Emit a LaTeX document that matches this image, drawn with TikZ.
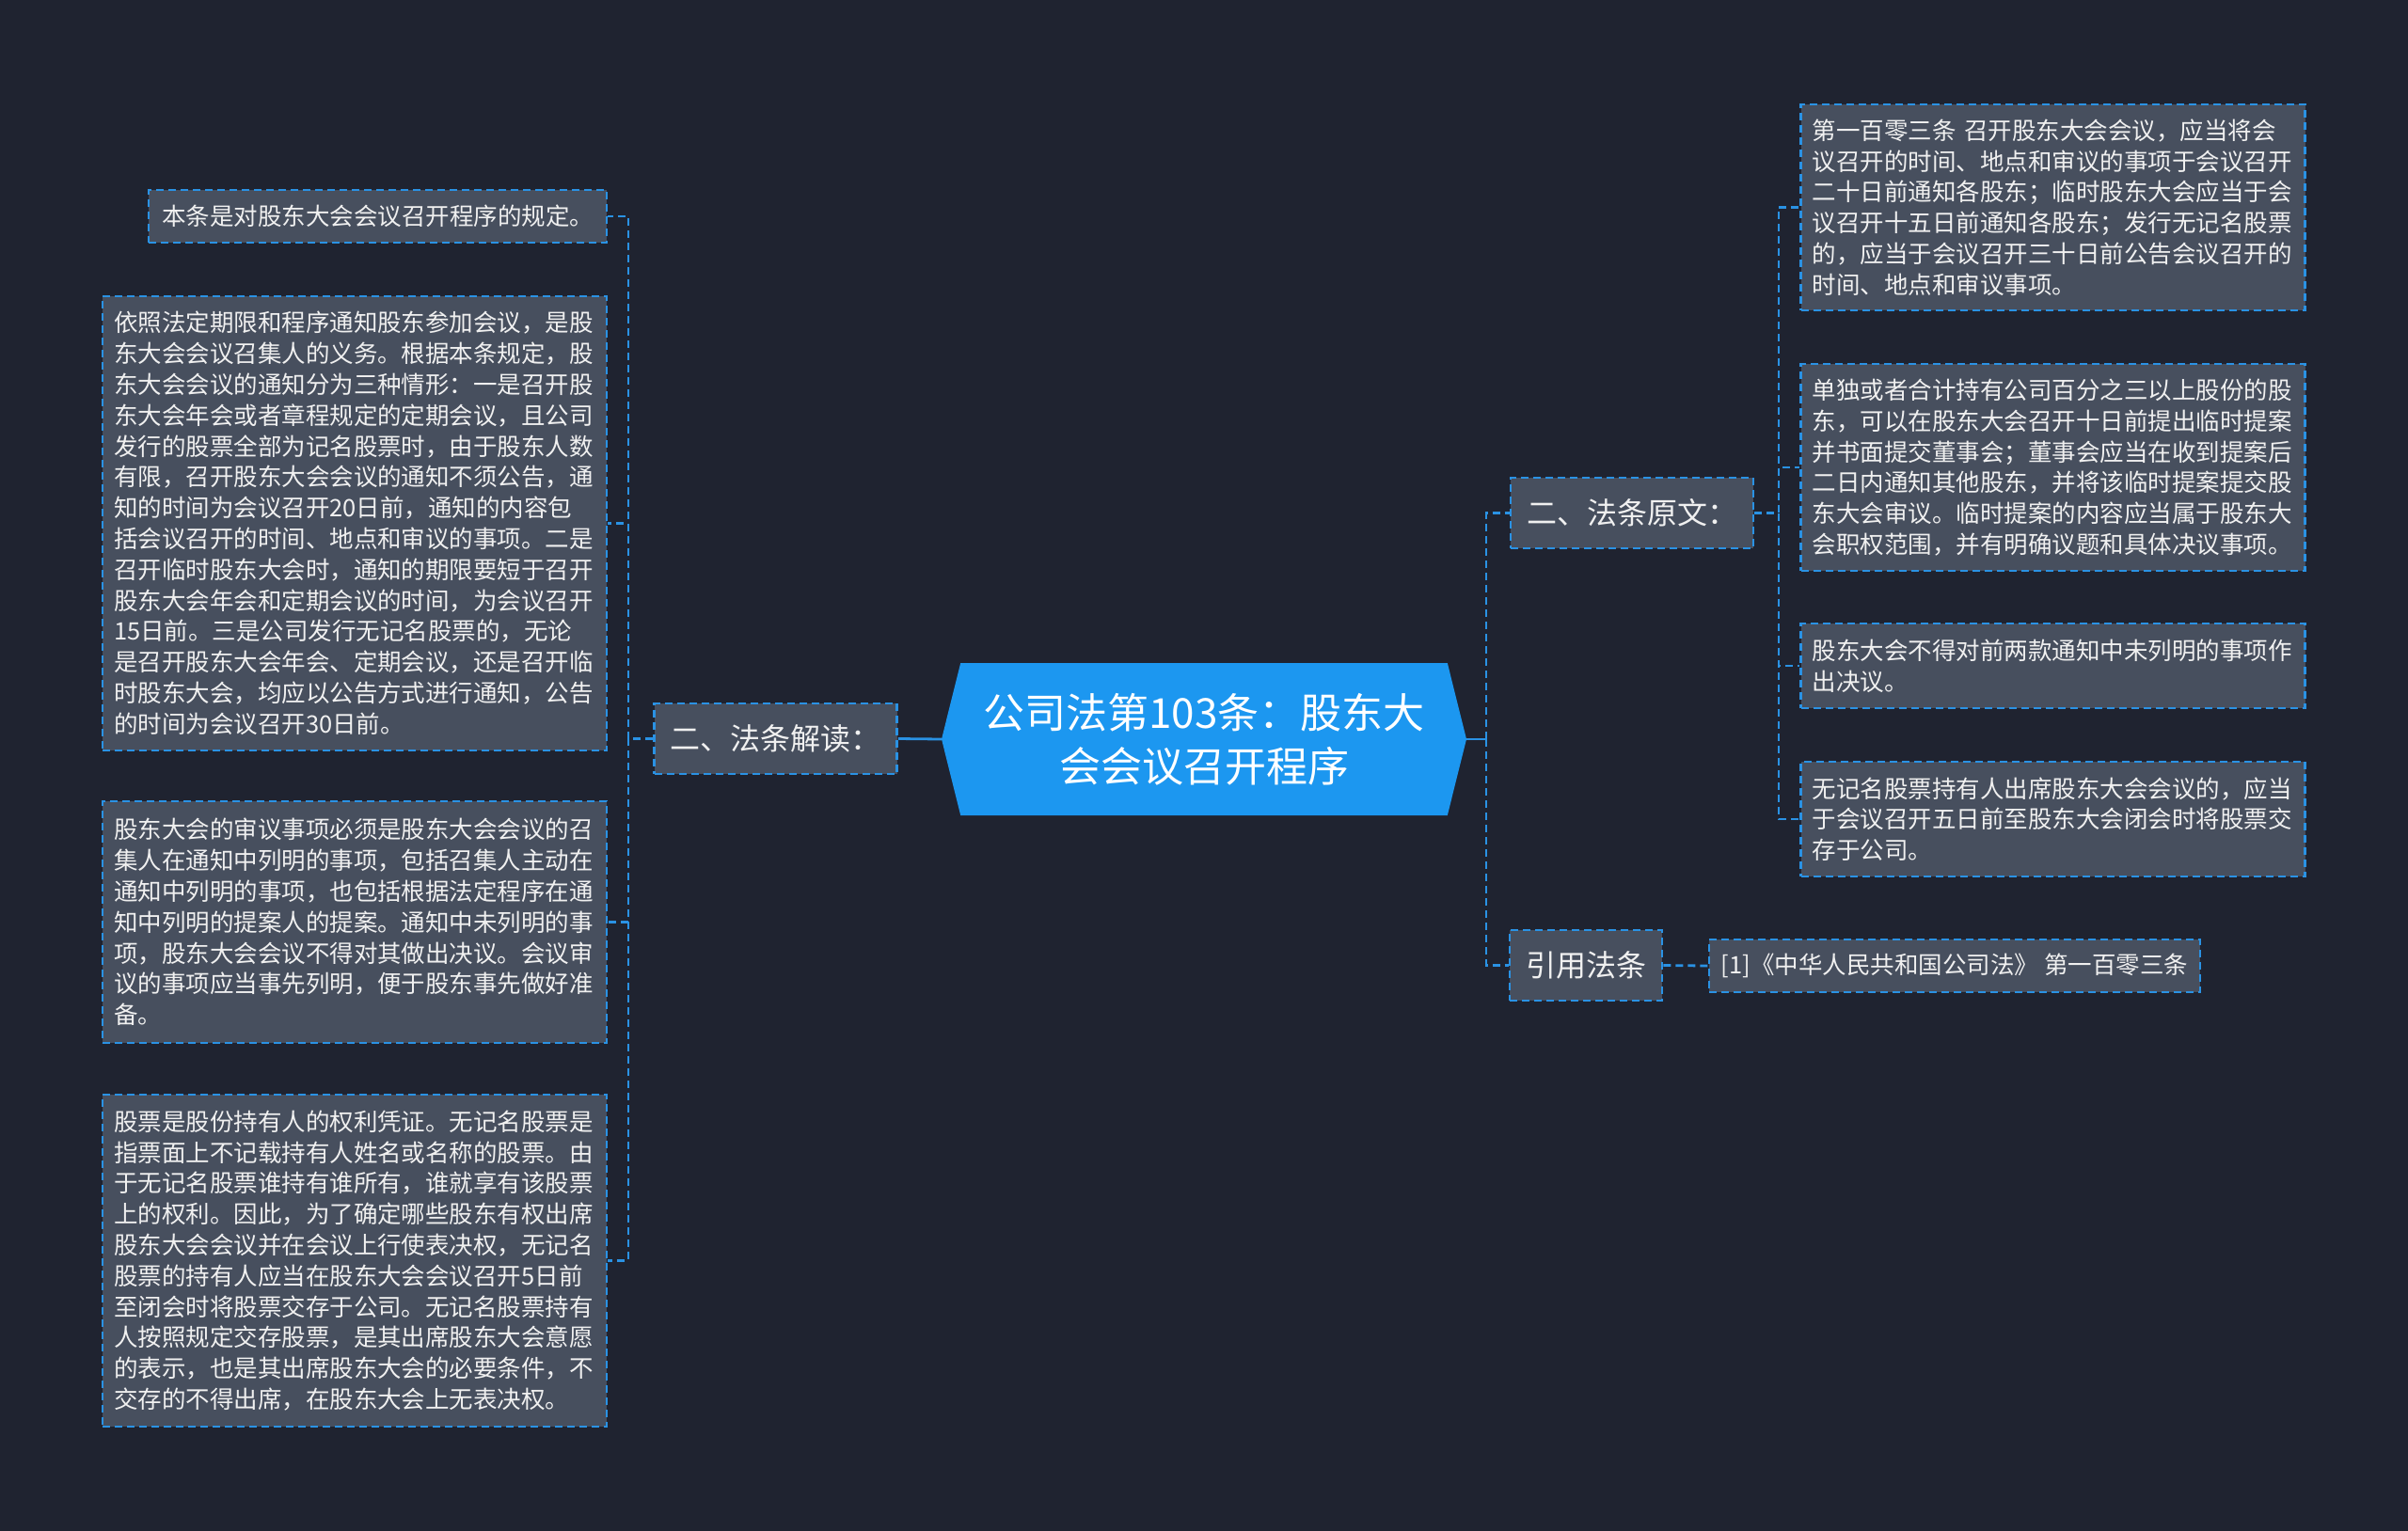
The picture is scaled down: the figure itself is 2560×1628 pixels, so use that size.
\documentclass[tikz,border=0pt]{standalone}
\usepackage{fontspec}
\setmainfont{Noto Sans CJK SC}
\usepackage{tikz}
\usetikzlibrary{shapes.symbols,positioning}
\definecolor{bgdark}{HTML}{1F2330}
\definecolor{boxgray}{HTML}{474F5E}
\definecolor{lineblue}{HTML}{2A92E4}
\definecolor{rootblue}{HTML}{1C97F0}
\definecolor{txtlight}{HTML}{F0F0F0}

\begin{document}
\begin{tikzpicture}[x=1pt,y=-1pt,
  box/.style={draw=lineblue,fill=boxgray,line width=2.8pt,dash pattern=on 8pt off 5pt,
    text=txtlight,font=\fontsize{25.5}{32.8}\selectfont,inner ysep=4pt},
  leaf/.style={box,text width=512pt,inner xsep=12pt,align=left},
  branch/.style={box,font=\fontsize{32}{40}\selectfont,inner xsep=17pt,minimum height=75pt},
  link/.style={draw=lineblue,line width=2.8pt,dash pattern=on 8pt off 5pt},
  solidlink/.style={draw=lineblue,line width=2.8pt}]
\fill[bgdark] (0,0) rectangle (2560,1628);

% centre
\node[signal,signal to=west and east,signal pointer angle=152,fill=rootblue,text=white,
  minimum width=558pt,minimum height=162pt,align=center,
  font=\fontsize{44}{57}\selectfont] (root) at (1280,786)
  {公司法第103条：股东大\\会会议召开程序};

% left side
\node[branch] (jiedu) at (824.5,785.5) {二、法条解读：};
\node[box,inner xsep=14pt,minimum height=56pt] (L1) at (401.5,230) {本条是对股东大会会议召开程序的规定。};
\node[leaf,minimum height=483pt] (L2) at (377,556.5) {依照法定期限和程序通知股东参加会议，是股\\
东大会会议召集人的义务。根据本条规定，股\\
东大会会议的通知分为三种情形：一是召开股\\
东大会年会或者章程规定的定期会议，且公司\\
发行的股票全部为记名股票时，由于股东人数\\
有限，召开股东大会会议的通知不须公告，通\\
知的时间为会议召开20日前，通知的内容包\\
括会议召开的时间、地点和审议的事项。二是\\
召开临时股东大会时，通知的期限要短于召开\\
股东大会年会和定期会议的时间，为会议召开\\
15日前。三是公司发行无记名股票的，无论\\
是召开股东大会年会、定期会议，还是召开临\\
时股东大会，均应以公告方式进行通知，公告\\
的时间为会议召开30日前。};
\node[leaf,minimum height=257pt] (L3) at (377,980.5) {股东大会的审议事项必须是股东大会会议的召\\
集人在通知中列明的事项，包括召集人主动在\\
通知中列明的事项，也包括根据法定程序在通\\
知中列明的提案人的提案。通知中未列明的事\\
项，股东大会会议不得对其做出决议。会议审\\
议的事项应当事先列明，便于股东事先做好准\\
备。};
\node[leaf,minimum height=353pt] (L4) at (377,1340.5) {股票是股份持有人的权利凭证。无记名股票是\\
指票面上不记载持有人姓名或名称的股票。由\\
于无记名股票谁持有谁所有，谁就享有该股票\\
上的权利。因此，为了确定哪些股东有权出席\\
股东大会会议并在会议上行使表决权，无记名\\
股票的持有人应当在股东大会会议召开5日前\\
至闭会时将股票交存于公司。无记名股票持有\\
人按照规定交存股票，是其出席股东大会意愿\\
的表示，也是其出席股东大会的必要条件，不\\
交存的不得出席，在股东大会上无表决权。};

% right side
\node[branch] (yuanwen) at (1735,545.5) {二、法条原文：};
\node[branch] (yinyong) at (1686,1026.5) {引用法条};
\node[box,inner xsep=13pt,minimum height=56pt] (cite) at (2078,1027) {[1]《中华人民共和国公司法》 第一百零三条};
\node[leaf,minimum height=219pt] (R1) at (2182.5,220.5) {第一百零三条 召开股东大会会议，应当将会\\
议召开的时间、地点和审议的事项于会议召开\\
二十日前通知各股东；临时股东大会应当于会\\
议召开十五日前通知各股东；发行无记名股票\\
的，应当于会议召开三十日前公告会议召开的\\
时间、地点和审议事项。};
\node[leaf,minimum height=220pt] (R2) at (2182.5,497) {单独或者合计持有公司百分之三以上股份的股\\
东，可以在股东大会召开十日前提出临时提案\\
并书面提交董事会；董事会应当在收到提案后\\
二日内通知其他股东，并将该临时提案提交股\\
东大会审议。临时提案的内容应当属于股东大\\
会职权范围，并有明确议题和具体决议事项。};
\node[leaf,minimum height=90pt] (R3) at (2182.5,708) {股东大会不得对前两款通知中未列明的事项作\\
出决议。};
\node[leaf,minimum height=122pt] (R4) at (2182.5,871) {无记名股票持有人出席股东大会会议的，应当\\
于会议召开五日前至股东大会闭会时将股票交\\
存于公司。};

% connectors
\coordinate (ljoint) at (668,785.5);
\coordinate (rjoint) at (1580,786);
\coordinate (rsub) at (1891,545.5);
\draw[solidlink] (root.west) -- (jiedu.east);
\foreach \leafname in {L1,L2,L3,L4}
  \draw[link] (jiedu.west) -- (ljoint) |- (\leafname.east);
\draw[solidlink] (root.east) -- (rjoint);
\draw[link] (rjoint) |- (yuanwen.west);
\draw[link] (rjoint) |- (yinyong.west);
\foreach \leafname in {R1,R2,R3,R4}
  \draw[link] (yuanwen.east) -- (rsub) |- (\leafname.west);
\draw[link] (yinyong.east) -- (cite.west);
\end{tikzpicture}
\end{document}
